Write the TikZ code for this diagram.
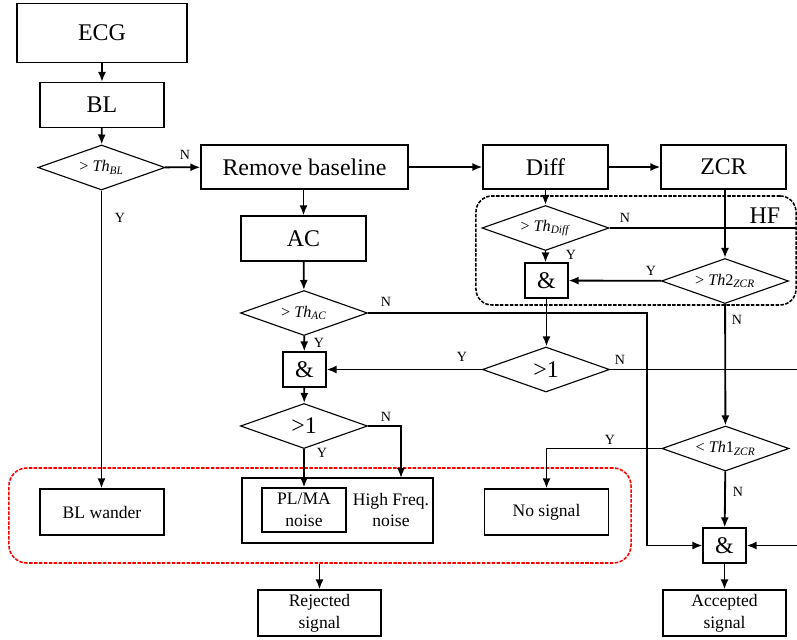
\documentclass[tikz,border=0pt]{standalone}
\usepackage{fontspec}
\setmainfont{Liberation Serif}
\usetikzlibrary{shapes.geometric,arrows.meta}

\newcommand{\condtxt}[1]{\makebox[0pt]{#1}}

\begin{document}
\begin{tikzpicture}[x=0.025cm, y=-0.025cm,
    box/.style={draw, line width=0.8pt, inner sep=0pt, align=center,
        minimum width=3.125cm, minimum height=1.125cm, font=\fontsize{17}{19}\selectfont},
    smallbox/.style={box, minimum width=3.1cm, minimum height=1.15cm,
        font=\fontsize{12.5}{15.5}\selectfont},
    andbox/.style={box, minimum width=1.075cm, minimum height=0.875cm},
    cond/.style={diamond, draw, line width=0.8pt, inner sep=0pt, shape aspect=2.8,
        minimum width=3.175cm, minimum height=1.125cm, font=\fontsize{11.5}{13}\selectfont},
    bigcond/.style={cond, font=\fontsize{17}{19}\selectfont},
    lbl/.style={inner sep=0pt, font=\fontsize{10}{12}\selectfont},
    flow/.style={line width=1.3pt, -{Latex[length=0.25cm, width=0.2cm]}},
    wire/.style={line width=1.3pt},
    group/.style={line width=1.1pt, dash pattern=on 2.5pt off 1pt, inner sep=0pt}
]

    % Frame
    \useasboundingbox (0,0) rectangle (797,639);

    % Group frames
    \node[group, draw=black, rounded corners=0.4cm, minimum width=8.0cm, minimum height=2.725cm]
        (hfgrp) at (636,250.5) {};
    \node[font=\fontsize{17}{19}\selectfont] (hftxt) at (765,216) {HF};
    \node[group, draw=red, rounded corners=0.45cm, minimum width=15.55cm, minimum height=2.375cm]
        (rejgrp) at (320,515.5) {};

    % Main chain
    \node[box, minimum width=4.25cm, minimum height=1.475cm] (ecg) at (102,33) {ECG};
    \node[box, minimum width=3.1cm] (bl) at (102,105) {BL};
    \node[cond] (thBL) at (101.5,167.5) {\condtxt{> \textit{Th}\textsubscript{\textit{BL}}}};
    \node[box, minimum width=5.175cm, minimum height=1.1cm] (rmb) at (304.5,167) {Remove baseline};
    \node[box, minimum height=1.1cm] (diff) at (545.5,167) {Diff};
    \node[box, minimum height=1.1cm] (zcr) at (723.5,167) {ZCR};

    % Left branch
    \node[box] (ac) at (303.5,238.5) {AC};
    \node[cond] (thAC) at (304,313) {\condtxt{> \textit{Th}\textsubscript{\textit{AC}}}};
    \node[andbox] (andA) at (304.5,369.5) {\&};
    \node[bigcond] (gtL) at (304,426) {\condtxt{>1}};

    % HF branch
    \node[cond] (thDiff) at (545.5,228) {\condtxt{> \textit{Th}\textsubscript{\textit{Diff}}}};
    \node[andbox] (andH) at (546.5,280.5) {\&};
    \node[cond] (thZ2) at (725,281) {\condtxt{> \textit{Th}2\textsubscript{\textit{ZCR}}}};
    \node[bigcond] (gtR) at (546,369.5) {\condtxt{>1}};
    \node[cond] (thZ1) at (725.5,448.5) {\condtxt{< \textit{Th}1\textsubscript{\textit{ZCR}}}};
    \node[andbox] (andF) at (724.5,545.5) {\&};

    % Outcomes
    \node[smallbox] (blw) at (102,512) {BL wander};
    \node[box, minimum width=4.775cm, minimum height=1.625cm] (noise) at (337.5,510.5) {};
    \node[smallbox, minimum width=2.1cm, minimum height=1.1cm] (plma) at (304,510) {PL/MA\\noise};
    \node[inner sep=0pt, align=center, font=\fontsize{12.5}{15.5}\selectfont] (hfq) at (391,510) {High Freq.\\noise};
    \node[smallbox] (nos) at (546.5,512) {No signal};
    \node[smallbox, minimum width=3.075cm] (rej) at (319.5,613) {Rejected\\signal};
    \node[smallbox, minimum width=3.075cm] (acc) at (724.5,613) {Accepted\\signal};

    % Free ends
    \coordinate (hfin) at (401,478);
    \coordinate (acN) at (647,545.5);
    \coordinate (eR1) at (797,228);
    \coordinate (eR2) at (797,369.5);
    \coordinate (eR3) at (797,545.5);

    % Connectors
    \draw[flow] (ecg) -- (bl);
    \draw[flow] (bl) -- (thBL);
    \draw[flow] (thBL) -- (rmb);
    \draw[flow] (thBL) -- (thBL.south |- blw.north);
    \draw[flow] (rmb) -- (diff);
    \draw[flow] (diff) -- (zcr);
    \draw[flow] (rmb.south -| ac) -- (ac);
    \draw[flow] (ac) -- (thAC);
    \draw[flow] (thAC) -- (andA);
    \draw[flow] (andA) -- (gtL);
    \draw[flow] (gtL.south) -- (gtL.south |- plma.north);
    \draw[flow] (gtL.east) -| (hfin);
    \draw[flow] (diff) -- (thDiff);
    \draw[wire] (thDiff.east) -- (eR1);
    \draw[flow] (thDiff) -- (thDiff.south |- andH.north);
    \draw[flow] (zcr.south -| thZ2) -- (thZ2);
    \draw[flow] (thZ2) -- (andH);
    \draw[flow] (andH) -- (andH.south |- gtR.north);
    \draw[flow] (gtR) -- (andA);
    \draw[wire] (gtR.east) -- (eR2);
    \draw[flow] (thAC.east) -| (acN) -- (andF.west);
    \draw[flow] (thZ2) -- (thZ1);
    \draw[flow] (thZ1.west) -| (nos.north);
    \draw[flow] (thZ1) -- (andF);
    \draw[flow] (eR3) -- (andF.east);
    \draw[flow] (andF) -- (acc);
    \draw[flow] (rejgrp.south -| rej) -- (rej);

    % Y/N labels
    \node[lbl] at (185,155) {N};
    \node[lbl] at (120,218) {Y};
    \node[lbl] at (386,302) {N};
    \node[lbl] at (319,343) {Y};
    \node[lbl] at (386,417) {N};
    \node[lbl] at (322,453) {Y};
    \node[lbl] at (625,218) {N};
    \node[lbl] at (571,255) {Y};
    \node[lbl] at (651,271) {Y};
    \node[lbl] at (737,320) {N};
    \node[lbl] at (462,357) {Y};
    \node[lbl] at (620,360) {N};
    \node[lbl] at (610,440) {Y};
    \node[lbl] at (738,492) {N};

\end{tikzpicture}
\end{document}
